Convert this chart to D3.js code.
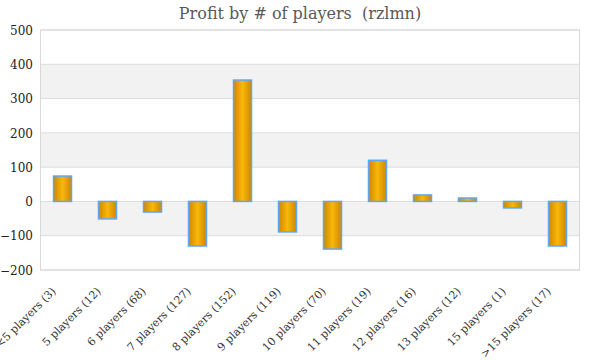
<!DOCTYPE html>
<html><head><meta charset="utf-8">
<script src="https://cdn.jsdelivr.net/npm/d3@7"></script>
<style>body{margin:0;background:#fff}svg{display:block}
text{font-family:"DejaVu Serif","Liberation Serif",serif;}
</style>
</head><body>
<svg id="c" width="600" height="360"></svg>
<script>
const categories = ["<5 players (3)","5 players (12)","6 players (68)","7 players (127)","8 players (152)","9 players (119)","10 players (70)","11 players (19)","12 players (16)","13 players (12)","15 players (1)",">15 players (17)"];
const profit = [74,-51,-31,-130,354,-89,-139,120,19,10,-19,-130];
const yTicks = [-200,-100,0,100,200,300,400,500];
const title = "Profit by # of players  (rzlmn)";

const svg = d3.select("#c");
const m = {l:40, r:20, t:30, b:90};
const W = 600, H = 360;
const x = d3.scaleBand().domain(categories).range([m.l, W-m.r]).paddingInner(0.6).paddingOuter(0.3);
const y = d3.scaleLinear().domain([-200,500]).range([H-m.b, m.t]);
const font = "DejaVu Serif";

const defs = svg.append("defs");
const g = defs.append("linearGradient").attr("id","bg").attr("x1","0").attr("x2","1").attr("y1","0").attr("y2","0");
g.append("stop").attr("offset","0").attr("stop-color","#cf8500");
g.append("stop").attr("offset","0.5").attr("stop-color","#f9b80a");
g.append("stop").attr("offset","1").attr("stop-color","#cf8500");

const bandLows = yTicks.filter(v => [-100, 100, 300].includes(v));
svg.append("g").selectAll("rect").data(bandLows).join("rect")
  .attr("x", m.l).attr("width", W-m.r-m.l)
  .attr("y", d => y(d+100)).attr("height", d => y(d)-y(d+100))
  .attr("fill","#f2f2f2");

svg.append("g").selectAll("line").data(yTicks).join("line")
  .attr("x1", m.l).attr("x2", W-m.r)
  .attr("y1", d => y(d)).attr("y2", d => y(d))
  .attr("stroke","#dcdcdc").attr("stroke-width",1);

svg.append("rect").attr("x", m.l+0.5).attr("y", y(500)).attr("width", W-m.r-m.l-1).attr("height", y(-200)-y(500))
  .attr("fill","none").attr("stroke","#d9d9d9");

const yAxis = d3.axisLeft(y).tickValues(yTicks).tickSize(0).tickPadding(8);
const ya = svg.append("g").attr("transform",`translate(${m.l},0)`).call(yAxis).attr("font-family",null);
ya.select(".domain").remove();
ya.selectAll("text").style("font-family",font).attr("font-size",12).attr("fill","#222").attr("x",-7).attr("dy","0.35em");

svg.append("g").selectAll("rect").data(profit).join("rect")
  .attr("x", (d,i) => x(categories[i]))
  .attr("width", x.bandwidth())
  .attr("y", d => y(Math.max(0,d)))
  .attr("height", d => Math.abs(y(d)-y(0)))
  .attr("fill","url(#bg)")
  .attr("stroke","#5ea8f2").attr("stroke-width",1.5);

const xAxis = d3.axisBottom(x).tickSize(0).tickPadding(0);
const xa = svg.append("g").attr("transform",`translate(0,${y(-200)})`).call(xAxis).attr("font-family",null);
xa.select(".domain").remove();
xa.selectAll("text")
  .style("font-family",font).attr("font-size",11).attr("fill","#333")
  .attr("text-anchor","end").attr("dy",0).attr("y",0)
  .attr("transform","translate(-6,22) rotate(-45)");

svg.append("text").attr("x",300).attr("y",19).attr("text-anchor","middle")
  .style("font-family",font).style("white-space","pre").attr("font-size",16).attr("fill","#595959").text(title);
</script>
</body></html>
